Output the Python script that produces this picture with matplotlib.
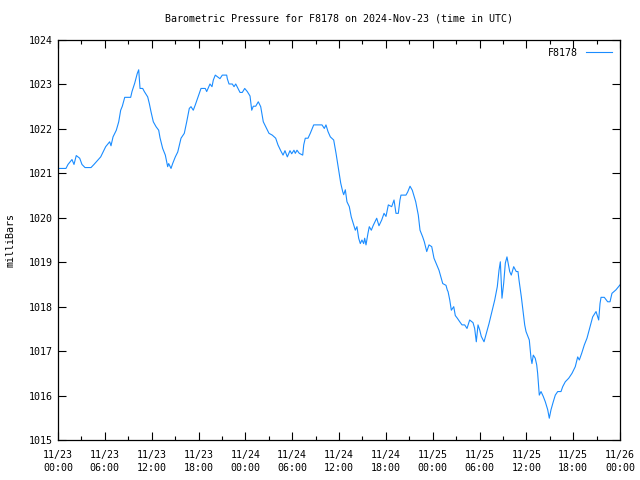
import matplotlib
matplotlib.use('Agg')
import matplotlib.pyplot as plt
from matplotlib.ticker import MultipleLocator
import datetime as dt

# Hours since 2024-11-23 00:00 UTC and pressure readings (mbar)
hours = [0, 1.02, 1.28, 1.79, 2.05, 2.34, 2.78, 3.07, 3.46, 4.23, 4.61, 5.12, 5.47, 5.77,
         6.11, 6.62, 6.79, 7.05, 7.47, 7.78, 8.03, 8.24, 8.55, 9.31, 9.48, 9.83, 10.16,
         10.34, 10.51, 10.85, 11.06, 11.49, 11.70, 11.91, 12.21, 12.56, 12.90, 13.07,
         13.41, 13.75, 14.05, 14.18, 14.48, 14.69, 15.03, 15.34, 15.76, 16.18, 16.49,
         16.82, 17.04, 17.33, 17.59, 17.81, 18.10, 18.32, 18.87, 19.05, 19.47, 19.73,
         19.90, 20.15, 20.75, 21.05, 21.61, 21.69, 21.91, 22.33, 22.55, 22.77, 23.06,
         23.32, 23.61, 23.92, 24.25, 24.60, 24.82, 25.02, 25.33, 25.66, 25.97, 26.30,
         26.61, 27.03, 27.45, 27.89, 28.18, 28.53, 28.83, 29.08, 29.38, 29.72, 29.94,
         30.23, 30.40, 30.62, 30.91, 31.35, 31.48, 31.68, 32.03, 32.32, 32.76, 33.82,
         34.12, 34.33, 34.59, 34.89, 35.32, 35.62, 35.96, 36.22, 36.47, 36.60, 36.81,
         37.02, 37.32, 37.57, 37.88, 38.09, 38.30, 38.52, 38.73, 38.94, 39.16, 39.29,
         39.46, 39.71, 39.88, 40.14, 40.39, 40.83, 41.12, 41.47, 41.77, 42.02, 42.32,
         42.75, 43.05, 43.30, 43.60, 43.81, 43.94, 44.58, 44.80, 45.10, 45.39, 45.83,
         46.16, 46.38, 46.72, 46.93, 47.24, 47.53, 47.88, 48.17, 48.52, 48.81, 49.29,
         49.71, 49.88, 49.97, 50.19, 50.39, 50.70, 50.90, 51.16, 51.47, 51.76, 52.10,
         52.40, 52.74, 53.17, 53.38, 53.59, 53.81, 54.02, 54.23, 54.58, 54.87, 55.22,
         55.64, 55.95, 56.28, 56.50, 56.67, 56.88, 57.10, 57.31, 57.52, 57.87, 58.07,
         58.38, 58.71, 58.93, 59.06, 59.36, 59.57, 59.79, 59.96, 60.38, 60.60, 60.72,
         60.89, 61.14, 61.33, 61.45, 61.66, 61.88, 62.17, 62.43, 62.74, 62.94, 63.16,
         63.45, 63.71, 64.02, 64.44, 64.66, 64.99, 65.43, 65.85, 66.27, 66.58, 66.79,
         67.09, 67.43, 67.77, 68.28, 68.50, 68.93, 69.27, 69.44, 69.57, 69.99, 70.42,
         70.72, 70.97, 71.49, 72.0]

pressure = [1021.11, 1021.11, 1021.20, 1021.31, 1021.20, 1021.40, 1021.34, 1021.20,
            1021.13, 1021.13, 1021.20, 1021.30, 1021.37, 1021.48, 1021.60, 1021.71,
            1021.62, 1021.82, 1021.97, 1022.16, 1022.42, 1022.51, 1022.71, 1022.71,
            1022.84, 1023.03, 1023.25, 1023.33, 1022.91, 1022.91, 1022.84, 1022.72,
            1022.57, 1022.39, 1022.16, 1022.05, 1021.97, 1021.80, 1021.56, 1021.41,
            1021.15, 1021.22, 1021.11, 1021.22, 1021.37, 1021.48, 1021.79, 1021.90,
            1022.16, 1022.46, 1022.50, 1022.42, 1022.54, 1022.65, 1022.80, 1022.91,
            1022.91, 1022.84, 1023.01, 1022.95, 1023.10, 1023.21, 1023.13, 1023.21,
            1023.21, 1023.13, 1023.01, 1023.01, 1022.95, 1023.01, 1022.91, 1022.82,
            1022.82, 1022.91, 1022.84, 1022.74, 1022.42, 1022.51, 1022.51, 1022.61,
            1022.50, 1022.16, 1022.05, 1021.90, 1021.86, 1021.79, 1021.64, 1021.51,
            1021.41, 1021.51, 1021.37, 1021.51, 1021.44, 1021.52, 1021.45, 1021.52,
            1021.45, 1021.41, 1021.64, 1021.79, 1021.79, 1021.90, 1022.09, 1022.09,
            1022.01, 1022.09, 1021.94, 1021.82, 1021.75, 1021.45, 1021.07, 1020.78,
            1020.59, 1020.52, 1020.63, 1020.36, 1020.25, 1020.02, 1019.84, 1019.72,
            1019.80, 1019.54, 1019.42, 1019.50, 1019.42, 1019.54, 1019.39, 1019.65,
            1019.80, 1019.72, 1019.83, 1019.99, 1019.82, 1019.95, 1020.10, 1020.03,
            1020.29, 1020.25, 1020.40, 1020.10, 1020.10, 1020.40, 1020.51, 1020.51,
            1020.58, 1020.71, 1020.62, 1020.36, 1020.06, 1019.72, 1019.57, 1019.46,
            1019.24, 1019.39, 1019.35, 1019.09, 1018.94, 1018.82, 1018.52, 1018.48,
            1018.37, 1018.34, 1018.15, 1017.92, 1018.00, 1017.80, 1017.74, 1017.66,
            1017.59, 1017.59, 1017.51, 1017.70, 1017.64, 1017.51, 1017.21, 1017.59,
            1017.48, 1017.33, 1017.21, 1017.40, 1017.62, 1017.92, 1018.15, 1018.45,
            1018.82, 1019.01, 1018.19, 1018.53, 1018.98, 1019.12, 1018.79, 1018.71,
            1018.90, 1018.79, 1018.79, 1018.60, 1018.22, 1017.92, 1017.59, 1017.44,
            1017.25, 1016.84, 1016.72, 1016.91, 1016.84, 1016.69, 1016.50, 1016.01,
            1016.09, 1015.98, 1015.86, 1015.68, 1015.49, 1015.68, 1015.86, 1016.01,
            1016.09, 1016.09, 1016.20, 1016.31, 1016.39, 1016.50, 1016.65, 1016.87,
            1016.80, 1016.95, 1017.14, 1017.29, 1017.62, 1017.77, 1017.89, 1017.70,
            1018.07, 1018.21, 1018.21, 1018.11, 1018.11, 1018.30, 1018.38, 1018.49]

start = dt.datetime(2024, 11, 23)
tick_hours = list(range(0, 73, 6))
tick_labels = [(start + dt.timedelta(hours=h)).strftime('%m/%d\n%H:%M') for h in tick_hours]

plt.rcParams['font.family'] = 'DejaVu Sans Mono'
plt.rcParams['font.size'] = 7.2

fig = plt.figure(figsize=(6.4, 4.8), dpi=100)
ax = fig.add_axes([58 / 640, 40 / 480, 562 / 640, 400 / 480])

ax.plot(hours, pressure, color='#1a8cff', lw=0.8, label='F8178')

ax.set_xlim(0, 72)
ax.set_ylim(1015, 1024)
ax.set_xticks(tick_hours)
ax.set_xticklabels(tick_labels, linespacing=1.4)
ax.xaxis.set_minor_locator(MultipleLocator(3))
ax.yaxis.set_major_locator(MultipleLocator(1))
ax.tick_params(which='both', direction='in', top=True, right=True, width=0.8)
ax.tick_params(which='major', length=6)
ax.tick_params(which='minor', length=3)
ax.tick_params(axis='x', pad=7)
for s in ax.spines.values():
    s.set_linewidth(0.9)

ax.set_ylabel('milliBars', labelpad=10)
ax.set_title('Barometric Pressure for F8178 on 2024-Nov-23 (time in UTC)',
             fontsize=7.2, pad=13)
ax.legend(loc='upper right', frameon=False, markerfirst=False, handlelength=2.6,
          borderaxespad=0.4)

fig.savefig('out.png', dpi=100)
